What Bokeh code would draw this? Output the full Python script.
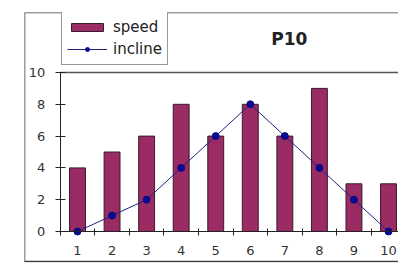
from bokeh.plotting import figure
from bokeh.models import (LinearAxis, FixedTicker, Span, Label, Legend,
                          LegendItem, Range1d)
from bokeh.embed import file_html
from bokeh.resources import INLINE

# ---- data -------------------------------------------------------------
categories = [1, 2, 3, 4, 5, 6, 7, 8, 9, 10]
speed = [4, 5, 6, 8, 6, 8, 6, 9, 3, 3]
incline = [0, 1, 2, 4, 6, 8, 6, 4, 2, 0]
y_ticks = [0, 2, 4, 6, 8, 10]
title_text = "P10"
series_names = ["speed", "incline"]

# ---- style ------------------------------------------------------------
FONT = "DejaVu Sans"
BAR_FILL = "#9a2b63"
BAR_LINE = "#3a1a2c"
LINE_COL = "#1f2280"
DOT_COL = "#0a0a8c"
AXIS_COL = "#222222"

X0, X1 = -0.534, 10.289
Y0, Y1 = -1.950, 13.774
FRAME_BOTTOM = -1.887

p = figure(width=398, height=265, output_backend="svg", toolbar_location=None,
           x_range=Range1d(X0, X1), y_range=Range1d(Y0, Y1),
           x_axis_type=None, y_axis_type=None,
           min_border_left=24, min_border_right=0,
           min_border_top=12, min_border_bottom=3)
p.outline_line_color = None
p.background_fill_color = "white"
p.border_fill_color = "white"

lo = categories[0] - 0.5
hi = categories[-1] + 0.5

# y axis
yaxis = LinearAxis(ticker=FixedTicker(ticks=y_ticks), fixed_location=lo,
                   bounds=(y_ticks[0], y_ticks[-1]))
yaxis.major_tick_in = 5
yaxis.major_tick_out = 5
yaxis.minor_tick_line_color = None
yaxis.axis_line_color = AXIS_COL
yaxis.major_tick_line_color = AXIS_COL
yaxis.major_label_standoff = 10
yaxis.major_label_text_font = FONT
yaxis.major_label_text_font_size = "13px"
yaxis.major_label_text_color = "#333333"
p.add_layout(yaxis, "left")

# x axis: ticks between categories
xt = LinearAxis(ticker=FixedTicker(ticks=[c - 0.5 for c in categories] + [hi]),
                fixed_location=y_ticks[0], bounds=(lo, hi))
xt.major_tick_in = 3
xt.major_tick_out = 4
xt.minor_tick_line_color = None
xt.axis_line_color = AXIS_COL
xt.major_tick_line_color = AXIS_COL
xt.major_label_text_alpha = 0
p.add_layout(xt, "below")

# x axis: category labels
xl = LinearAxis(ticker=FixedTicker(ticks=categories), fixed_location=y_ticks[0])
xl.axis_line_color = None
xl.major_tick_line_color = None
xl.minor_tick_line_color = None
xl.major_tick_out = 0
xl.major_tick_in = 0
xl.major_label_standoff = 15
xl.major_label_text_font = FONT
xl.major_label_text_font_size = "13px"
xl.major_label_text_color = "#333333"
p.add_layout(xl, "below")

# plot-area top border
p.segment(x0=[lo], x1=[X1 + 1], y0=[y_ticks[-1]], y1=[y_ticks[-1]],
          line_color="#555555", line_width=1.5)

bars = p.vbar(x=categories, top=speed, width=0.46, fill_color=BAR_FILL,
              line_color=BAR_LINE, line_width=1)
ln = p.line(categories, incline, line_color=LINE_COL, line_width=1)
pts = p.scatter(categories, incline, marker="circle", size=7,
                fill_color=DOT_COL, line_color=DOT_COL)

legend = Legend(items=[LegendItem(label=series_names[0], renderers=[bars]),
                       LegendItem(label=series_names[1], renderers=[ln, pts])],
                location=(37, 197), glyph_width=40, glyph_height=10,
                label_height=20, spacing=2, padding=5, margin=0,
                label_standoff=6, border_line_color="#333333",
                border_line_width=1.5, label_text_font=FONT,
                label_text_font_size="15px", label_text_color="#222222",
                background_fill_color="white", background_fill_alpha=1)
p.add_layout(legend)

p.add_layout(Label(x=7.13, y=12.08, text=title_text, text_align="center",
                   text_baseline="middle", text_font=FONT,
                   text_font_style="bold", text_font_size="17px",
                   text_color="#222222"))

# outer chart frame
for loc, dim in [(X0, "height"), (Y1, "width"), (FRAME_BOTTOM, "width")]:
    p.add_layout(Span(location=loc, dimension=dim, line_color="#3c3c3c",
                      line_width=1.5))

open("out.html", "w").write(file_html(p, INLINE))
